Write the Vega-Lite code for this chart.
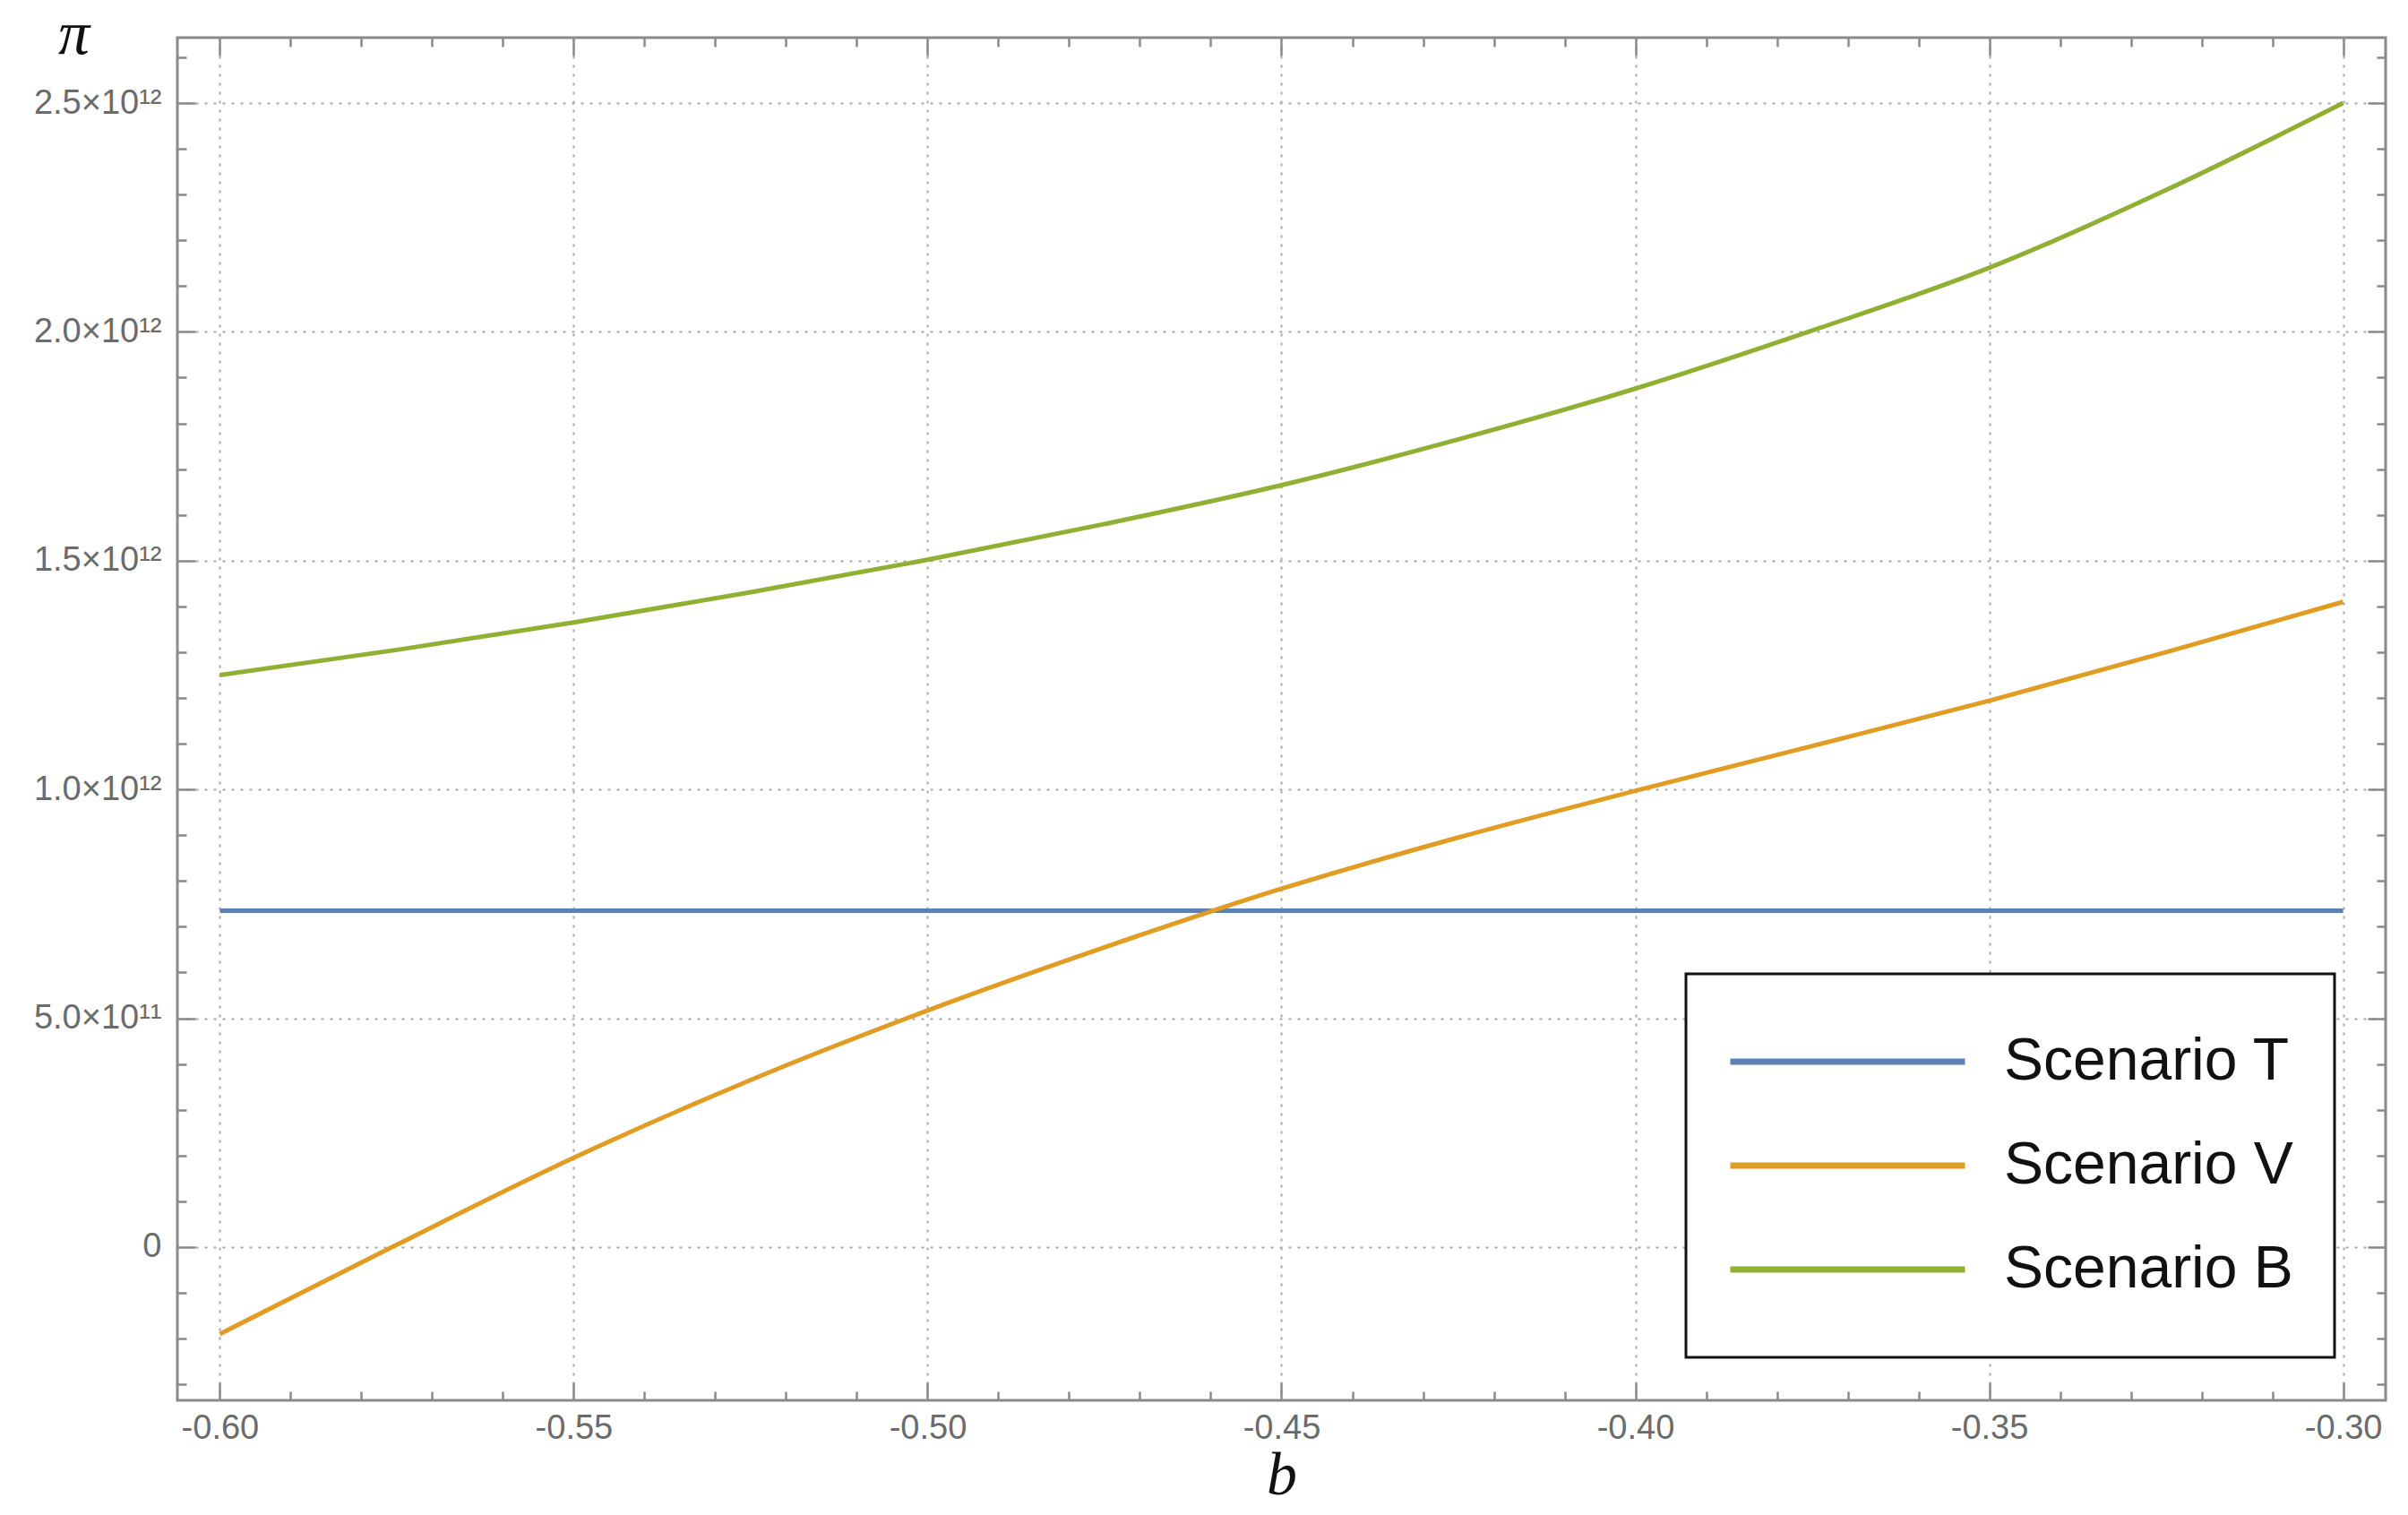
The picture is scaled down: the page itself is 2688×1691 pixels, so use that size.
{
  "$schema": "https://vega.github.io/schema/vega-lite/v6.json",
  "width": 2465,
  "height": 1521,
  "autosize": {"type": "none"},
  "padding": {"left": 198, "top": 42, "right": 25, "bottom": 128},
  "background": "white",
  "config": {
    "view": {"stroke": "#8a8a8a", "strokeWidth": 3},
    "axis": {
      "domain": false,
      "tickColor": "#8a8a8a",
      "tickWidth": 2.5,
      "labelFont": "Liberation Sans",
      "labelFontSize": 38,
      "labelColor": "#6b6b6b",
      "gridColor": "#a8a8a8",
      "gridWidth": 2,
      "gridDash": [3, 7]
    },
    "legend": {"strokeWidth": 3}
  },
  "data": {
    "values": [
      {"b": -0.600, "pi": 0.735e12, "s": "Scenario T"},
      {"b": -0.550, "pi": 0.735e12, "s": "Scenario T"},
      {"b": -0.500, "pi": 0.735e12, "s": "Scenario T"},
      {"b": -0.450, "pi": 0.735e12, "s": "Scenario T"},
      {"b": -0.400, "pi": 0.735e12, "s": "Scenario T"},
      {"b": -0.350, "pi": 0.735e12, "s": "Scenario T"},
      {"b": -0.300, "pi": 0.735e12, "s": "Scenario T"},
      {"b": -0.600, "pi": -0.190e12, "s": "Scenario V"},
      {"b": -0.575, "pi": 0.005e12, "s": "Scenario V"},
      {"b": -0.550, "pi": 0.195e12, "s": "Scenario V"},
      {"b": -0.525, "pi": 0.365e12, "s": "Scenario V"},
      {"b": -0.500, "pi": 0.517e12, "s": "Scenario V"},
      {"b": -0.475, "pi": 0.655e12, "s": "Scenario V"},
      {"b": -0.450, "pi": 0.783e12, "s": "Scenario V"},
      {"b": -0.425, "pi": 0.895e12, "s": "Scenario V"},
      {"b": -0.400, "pi": 0.997e12, "s": "Scenario V"},
      {"b": -0.375, "pi": 1.095e12, "s": "Scenario V"},
      {"b": -0.350, "pi": 1.194e12, "s": "Scenario V"},
      {"b": -0.325, "pi": 1.300e12, "s": "Scenario V"},
      {"b": -0.300, "pi": 1.410e12, "s": "Scenario V"},
      {"b": -0.600, "pi": 1.250e12, "s": "Scenario B"},
      {"b": -0.575, "pi": 1.305e12, "s": "Scenario B"},
      {"b": -0.550, "pi": 1.365e12, "s": "Scenario B"},
      {"b": -0.525, "pi": 1.431e12, "s": "Scenario B"},
      {"b": -0.500, "pi": 1.502e12, "s": "Scenario B"},
      {"b": -0.475, "pi": 1.580e12, "s": "Scenario B"},
      {"b": -0.450, "pi": 1.665e12, "s": "Scenario B"},
      {"b": -0.425, "pi": 1.765e12, "s": "Scenario B"},
      {"b": -0.400, "pi": 1.876e12, "s": "Scenario B"},
      {"b": -0.375, "pi": 2.003e12, "s": "Scenario B"},
      {"b": -0.350, "pi": 2.140e12, "s": "Scenario B"},
      {"b": -0.325, "pi": 2.310e12, "s": "Scenario B"},
      {"b": -0.300, "pi": 2.500e12, "s": "Scenario B"}
    ]
  },
  "layer": [
    {
      "mark": {"type": "line", "strokeWidth": 5, "interpolate": "monotone"},
      "encoding": {
        "x": {
          "field": "b", "type": "quantitative",
          "scale": {"domain": [-0.606, -0.294], "nice": false, "zero": false},
          "axis": {
            "orient": "bottom",
            "values": [-0.6, -0.55, -0.5, -0.45, -0.4, -0.35, -0.3],
            "labelExpr": "replace(format(datum.value, '.2f'), '−', '-')",
            "tickSize": -20,
            "labelPadding": 32,
            "grid": true,
            "title": "b",
            "titleFont": "Liberation Serif",
            "titleFontStyle": "italic",
            "titleFontWeight": "normal",
            "titleFontSize": 68,
            "titleColor": "#111",
            "titleBaseline": "alphabetic",
            "titleY": 104
          }
        },
        "y": {
          "field": "pi", "type": "quantitative",
          "scale": {"domain": [-0.335e12, 2.643e12], "nice": false, "zero": false},
          "axis": {
            "orient": "left",
            "values": [0, 0.5e12, 1.0e12, 1.5e12, 2.0e12, 2.5e12],
            "labelExpr": "datum.value == 0 ? '0' : (datum.value >= 1e12 ? format(datum.value/1e12, '.1f') + '×10¹²' : format(datum.value/1e11, '.1f') + '×10¹¹')",
            "tickSize": -20,
            "labelPadding": 38,
            "grid": true,
            "title": "π",
            "titleFont": "Liberation Serif",
            "titleFontStyle": "italic",
            "titleFontWeight": "normal",
            "titleFontSize": 70,
            "titleColor": "#111",
            "titleAngle": 0,
            "titleAlign": "center",
            "titleBaseline": "alphabetic",
            "titleX": -116,
            "titleY": 17
          }
        },
        "color": {
          "field": "s", "type": "nominal",
          "scale": {"domain": ["Scenario T", "Scenario V", "Scenario B"], "range": ["#5E81B5", "#E19C24", "#8FB032"]},
          "legend": {
            "orient": "none",
            "legendX": 1684,
            "legendY": 1045,
            "title": null,
            "symbolType": "stroke",
            "symbolSize": 68644,
            "symbolStrokeWidth": 7,
            "clipHeight": 104,
            "labelFont": "Liberation Sans",
            "labelFontSize": 66,
            "labelColor": "#111",
            "labelOffset": 40,
            "labelLimit": 600,
            "padding": 46,
            "rowPadding": 12,
            "strokeColor": "#111",
            "fillColor": "white"
          }
        }
      }
    },
    {
      "mark": {"type": "line", "opacity": 0},
      "transform": [{"filter": "datum.b > 1"}],
      "encoding": {
        "x": {"field": "b", "type": "quantitative",
          "axis": {"orient": "bottom", "values": [-0.59, -0.58, -0.57, -0.56, -0.54, -0.53, -0.52, -0.51, -0.49, -0.48, -0.47, -0.46, -0.44, -0.43, -0.42, -0.41, -0.39, -0.38, -0.37, -0.36, -0.34, -0.33, -0.32, -0.31], "labels": false, "tickSize": -10, "grid": false, "title": null}},
        "y": {"field": "pi", "type": "quantitative",
          "axis": {"orient": "left", "values": [-0.3e12, -0.2e12, -0.1e12, 0.1e12, 0.2e12, 0.3e12, 0.4e12, 0.6e12, 0.7e12, 0.8e12, 0.9e12, 1.1e12, 1.2e12, 1.3e12, 1.4e12, 1.6e12, 1.7e12, 1.8e12, 1.9e12, 2.1e12, 2.2e12, 2.3e12, 2.4e12, 2.6e12], "labels": false, "tickSize": -10, "grid": false, "title": null}}
      }
    },
    {
      "mark": {"type": "line", "opacity": 0},
      "transform": [{"filter": "datum.b > 1"}],
      "encoding": {
        "x": {"field": "b", "type": "quantitative",
          "axis": {"orient": "top", "values": [-0.6, -0.55, -0.5, -0.45, -0.4, -0.35, -0.3], "labels": false, "tickSize": -20, "grid": false, "title": null}},
        "y": {"field": "pi", "type": "quantitative",
          "axis": {"orient": "right", "values": [0, 0.5e12, 1.0e12, 1.5e12, 2.0e12, 2.5e12], "labels": false, "tickSize": -20, "grid": false, "title": null}}
      }
    },
    {
      "mark": {"type": "line", "opacity": 0},
      "transform": [{"filter": "datum.b > 1"}],
      "encoding": {
        "x": {"field": "b", "type": "quantitative",
          "axis": {"orient": "top", "values": [-0.59, -0.58, -0.57, -0.56, -0.54, -0.53, -0.52, -0.51, -0.49, -0.48, -0.47, -0.46, -0.44, -0.43, -0.42, -0.41, -0.39, -0.38, -0.37, -0.36, -0.34, -0.33, -0.32, -0.31], "labels": false, "tickSize": -10, "grid": false, "title": null}},
        "y": {"field": "pi", "type": "quantitative",
          "axis": {"orient": "right", "values": [-0.3e12, -0.2e12, -0.1e12, 0.1e12, 0.2e12, 0.3e12, 0.4e12, 0.6e12, 0.7e12, 0.8e12, 0.9e12, 1.1e12, 1.2e12, 1.3e12, 1.4e12, 1.6e12, 1.7e12, 1.8e12, 1.9e12, 2.1e12, 2.2e12, 2.3e12, 2.4e12, 2.6e12], "labels": false, "tickSize": -10, "grid": false, "title": null}}
      }
    }
  ],
  "resolve": {"axis": {"x": "independent", "y": "independent"}}
}
